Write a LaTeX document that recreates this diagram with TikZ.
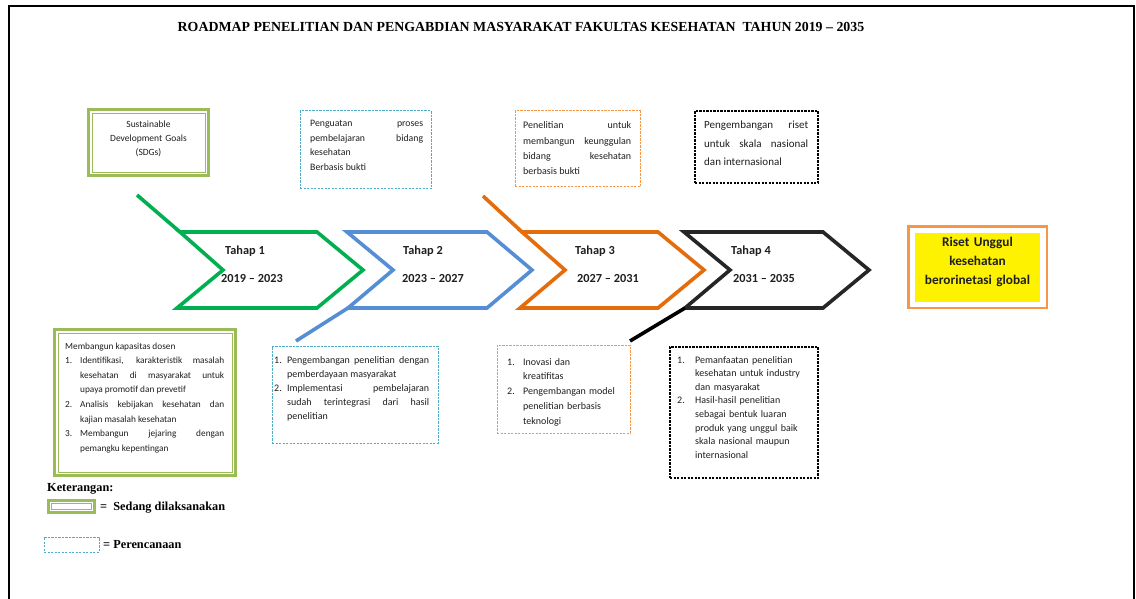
\documentclass[tikz,border=0pt]{standalone}
\usepackage{fontspec}
\setmainfont{Carlito}
\newfontfamily\tnr{Liberation Serif}
\usetikzlibrary{calc}
\setlength\parskip{0pt}
\definecolor{cgreen}{HTML}{00B050}
\definecolor{cblue}{HTML}{558ED5}
\definecolor{corange}{HTML}{E46C0A}
\definecolor{cblack}{HTML}{262626}
\definecolor{sdggreen}{HTML}{9BBB59}
\definecolor{dblue}{HTML}{4BACC6}
\definecolor{dorange}{HTML}{F79646}
\definecolor{ink}{HTML}{1F1F1F}
\newcommand\rmitem[2]{\hangindent=#1\hangafter=1\noindent\makebox[#1][l]{#2}\ignorespaces}
\begin{document}
\begin{tikzpicture}[x=1pt,y=-1pt,
  chev/.style={line width=3.6pt, line join=miter, miter limit=10},
  tailline/.style={line width=3.6pt},
  gbox/.style={draw=sdggreen, line width=3pt, inner sep=0pt, outer sep=0pt, anchor=north west},
  gin/.style={draw=sdggreen, line width=0.9pt},
  dbox/.style={dash pattern=on 2.2pt off 1.3pt, line width=1pt, inner sep=0pt, outer sep=0pt, anchor=north west},
  body/.style={inner sep=0pt, anchor=base west, text=ink},
  chevtxt/.style={inner sep=0pt, anchor=base, text=ink, font=\fontsize{12.3}{14}\selectfont\bfseries},
  legtxt/.style={inner sep=0pt, anchor=base west, font=\tnr\fontsize{12.3}{14}\selectfont\bfseries},
]
\useasboundingbox (0,0) rectangle (1136,599);
\fill[white] (0,0) rectangle (1136,599);
\draw[line width=2pt] (9,599) -- (9,6) -- (1134,6) -- (1134,599);

% title
\node[inner sep=0pt, anchor=base, font=\tnr\fontsize{13.85}{16}\selectfont\bfseries] (title) at (521,32)
  {ROADMAP PENELITIAN DAN PENGABDIAN MASYARAKAT FAKULTAS KESEHATAN\ \ TAHUN 2019 – 2035};

% ---------- top boxes ----------
\node[gbox, minimum width=120pt, minimum height=66pt] (sdg) at (88.5,109.5) {};
\draw[gin] ([shift={(3.5,3.5)}]sdg.north west) rectangle ([shift={(-3.5,-3.5)}]sdg.south east);
\node[inner sep=0pt, anchor=base, text=ink, text width=120pt, align=center, font=\fontsize{9.5}{14}\selectfont] (sdgt) at (148.5,128)
  {Sustainable\\Development Goals\\(SDGs)};

\node[dbox, draw=dblue, minimum width=131pt, minimum height=78pt] (pb) at (300,111) {};
\node[body, text width=113pt, align=justify, font=\fontsize{9.8}{14.5}\selectfont] (pbt) at (310,127)
  {Penguatan proses\linebreak pembelajaran bidang\linebreak kesehatan\par Berbasis bukti\par};

\node[dbox, draw=dorange, minimum width=125pt, minimum height=76pt] (po) at (515,111) {};
\node[body, text width=108pt, align=justify, font=\fontsize{10}{15.3}\selectfont] (pot) at (523,129)
  {Penelitian untuk\linebreak membangun keunggulan\linebreak bidang kesehatan\linebreak berbasis bukti\par};

\node[dbox, draw=black, line width=1.3pt, minimum width=123pt, minimum height=72pt] (pk) at (695,111) {};
\node[body, text width=104pt, align=justify, font=\fontsize{11}{18.5}\selectfont] (pkt) at (704,129)
  {Pengembangan riset\linebreak untuk skala nasional\linebreak dan internasional\par};

% ---------- chevrons ----------
\coordinate (a1) at (180,232); \coordinate (b1) at (317,232); \coordinate (p1) at (363,270);
\coordinate (d1) at (317,308); \coordinate (e1) at (177,308); \coordinate (n1) at (223,270);
\coordinate (t1) at (137,195);
\draw[chev, cgreen] (a1) -- (b1) -- (p1) -- (d1) -- (e1) -- (n1) -- cycle;
\draw[tailline, cgreen] (t1) -- (a1);

\coordinate (a2) at (347,232); \coordinate (b2) at (487,232); \coordinate (p2) at (532,270);
\coordinate (d2) at (487,308); \coordinate (e2) at (348,308); \coordinate (n2) at (393,270);
\coordinate (t2) at (296,341);
\draw[chev, cblue] (a2) -- (b2) -- (p2) -- (d2) -- (e2) -- (n2) -- cycle;
\draw[tailline, cblue] (t2) -- (e2);

\coordinate (a3) at (522,232); \coordinate (b3) at (658,232); \coordinate (p3) at (704,270);
\coordinate (d3) at (658,308); \coordinate (e3) at (520,308); \coordinate (n3) at (565,270);
\coordinate (t3) at (483,196);
\draw[chev, corange] (a3) -- (b3) -- (p3) -- (d3) -- (e3) -- (n3) -- cycle;
\draw[tailline, corange] (t3) -- (a3);

\coordinate (a4) at (684,232); \coordinate (b4) at (823,232); \coordinate (p4) at (869,270);
\coordinate (d4) at (823,308); \coordinate (e4) at (685,308); \coordinate (n4) at (730,270);
\coordinate (t4) at (630,341);
\draw[chev, cblack] (a4) -- (b4) -- (p4) -- (d4) -- (e4) -- (n4) -- cycle;
\draw[tailline, black] (t4) -- (e4);

\node[chevtxt] (h1) at (245,254) {Tahap 1};
\node[chevtxt] (y1) at (252,282) {2019 – 2023};
\node[chevtxt] (h2) at (423,254) {Tahap 2};
\node[chevtxt] (y2) at (433,282) {2023 – 2027};
\node[chevtxt] (h3) at (595,254) {Tahap 3};
\node[chevtxt] (y3) at (608,282) {2027 – 2031};
\node[chevtxt] (h4) at (751,254) {Tahap 4};
\node[chevtxt] (y4) at (764,282) {2031 – 2035};

% ---------- goal ----------
\node[draw=dorange, line width=2.5pt, inner sep=0pt, outer sep=0pt, minimum width=138.5pt, minimum height=81.5pt, anchor=north west] (goalbox) at (908.25,226.25) {};
\node[fill=yellow, inner sep=0pt, outer sep=0pt, minimum width=125pt, minimum height=69pt, anchor=north west] (goalfill) at (915,233) {};
\node[inner sep=0pt, anchor=base, text=ink, text width=125pt, align=center, font=\fontsize{13.3}{19}\selectfont\bfseries] (goalt) at (977.5,247)
  {Riset Unggul\\kesehatan\\berorinetasi global};

% ---------- bottom boxes ----------
\node[gbox, minimum width=181pt, minimum height=146pt] (kb) at (54.5,329.5) {};
\draw[gin] ([shift={(3.5,3.5)}]kb.north west) rectangle ([shift={(-3.5,-3.5)}]kb.south east);
\node[body, text width=159pt, align=justify, font=\fontsize{9.3}{14.6}\selectfont] (kbt) at (65,349)
  {Membangun kapasitas dosen\par
   \rmitem{15pt}{1.}Identifikasi, karakteristik masalah\linebreak kesehatan di masyarakat untuk\linebreak upaya promotif dan prevetif\par
   \rmitem{15pt}{2.}Analisis kebijakan kesehatan dan\linebreak kajian masalah kesehatan\par
   \rmitem{15pt}{3.}Membangun jejaring dengan\linebreak pemangku kepentingan\par};

\node[dbox, draw=dblue, minimum width=166pt, minimum height=97pt] (bb) at (272,346) {};
\node[body, text width=155pt, align=justify, font=\fontsize{10}{14.2}\selectfont] (bbt) at (274,363)
  {\rmitem{13pt}{1.}Pengembangan penelitian dengan\linebreak pemberdayaan masyarakat\par
   \rmitem{13pt}{2.}Implementasi pembelajaran\linebreak sudah terintegrasi dari hasil\linebreak penelitian\par};

\node[dbox, draw=dorange, minimum width=133pt, minimum height=88pt] (ob) at (497,345) {};
\node[body, text width=120pt, align=left, font=\fontsize{10}{14.8}\selectfont] (obt) at (507,365)
  {\rmitem{16pt}{1.}Inovasi dan\linebreak kreatifitas\par
   \rmitem{16pt}{2.}Pengembangan model\linebreak penelitian berbasis\linebreak teknologi\par};

\node[dbox, draw=black, line width=1.3pt, minimum width=148pt, minimum height=131pt] (kk) at (670,347) {};
\node[body, text width=138pt, align=left, font=\fontsize{10}{13.6}\selectfont] (kkt) at (677,363)
  {\rmitem{18pt}{1.}Pemanfaatan penelitian\linebreak kesehatan untuk industry\linebreak dan masyarakat\par
   \rmitem{18pt}{2.}Hasil-hasil penelitian\linebreak sebagai bentuk luaran\linebreak produk yang unggul baik\linebreak skala nasional maupun\linebreak internasional\par};

% ---------- legend ----------
\node[legtxt] (ket) at (47,491) {Keterangan:};
\node[draw=sdggreen, line width=3pt, inner sep=0pt, outer sep=0pt, minimum width=46pt, minimum height=12pt, anchor=north west] (lg) at (48.5,500.5) {};
\draw[gin] ([shift={(3.3,3.3)}]lg.north west) rectangle ([shift={(-3.3,-3.3)}]lg.south east);
\node[legtxt] (lgt) at (100,510) {=\ \ Sedang dilaksanakan};
\node[dbox, draw=dblue, minimum width=55pt, minimum height=15pt] (lb) at (44,537) {};
\node[legtxt] (lbt) at (103,548) {= Perencanaan};
\end{tikzpicture}
\end{document}
